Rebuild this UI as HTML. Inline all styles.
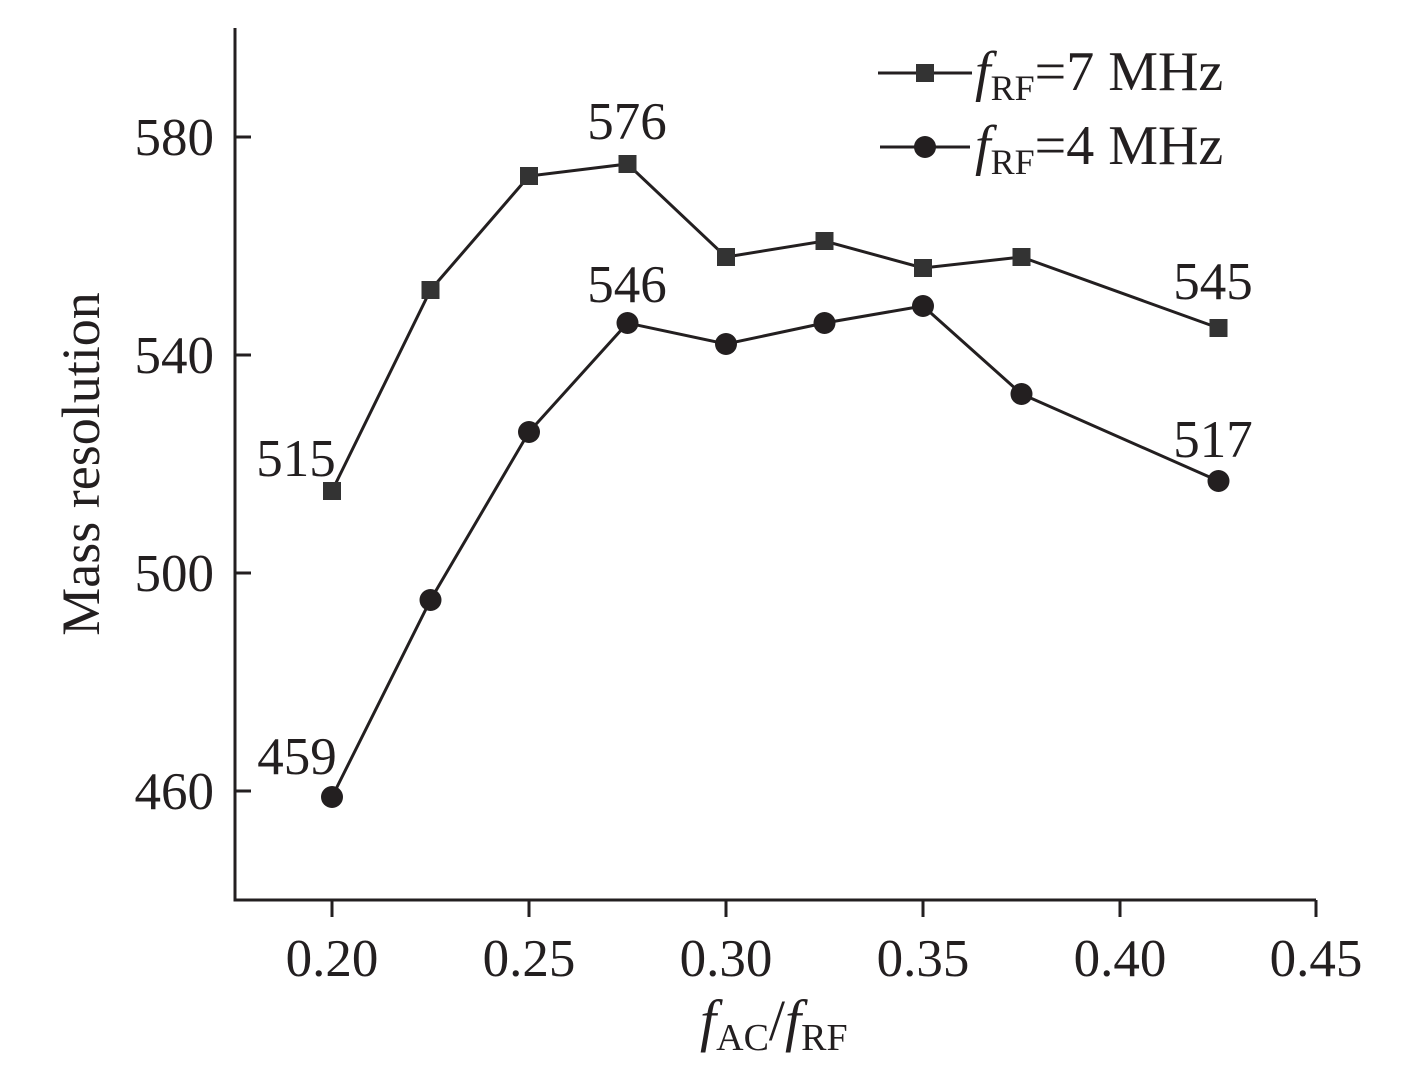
<!DOCTYPE html>
<html><head><meta charset="utf-8"><style>body{margin:0;background:#fff}svg{display:block}text{font-family:"Liberation Serif",serif;fill:#231f20}</style></head>
<body>
<svg width="1417" height="1074" viewBox="0 0 1417 1074" xmlns="http://www.w3.org/2000/svg">
<g stroke="#231f20" stroke-width="3" fill="none">
<polyline points="235,28 235,900 1316,900"/>
<line x1="235" y1="137" x2="251" y2="137"/><line x1="235" y1="355" x2="251" y2="355"/>
<line x1="235" y1="573" x2="251" y2="573"/><line x1="235" y1="791" x2="251" y2="791"/>
<line x1="332" y1="900" x2="332" y2="917"/><line x1="529" y1="900" x2="529" y2="917"/>
<line x1="726" y1="900" x2="726" y2="917"/><line x1="923" y1="900" x2="923" y2="917"/>
<line x1="1120" y1="900" x2="1120" y2="917"/><line x1="1316" y1="900" x2="1316" y2="917"/>
</g>
<g font-size="53" text-anchor="end">
<text x="214" y="155">580</text><text x="214" y="373">540</text><text x="214" y="591">500</text><text x="214" y="809">460</text>
</g>
<g font-size="53" text-anchor="middle">
<text x="332" y="976">0.20</text><text x="529" y="976">0.25</text><text x="726" y="976">0.30</text>
<text x="923" y="976">0.35</text><text x="1120" y="976">0.40</text><text x="1316" y="976">0.45</text>
</g>
<text font-size="54" text-anchor="middle" transform="translate(99,464) rotate(-90)">Mass resolution</text>
<text font-size="58" x="700" y="1040"><tspan font-style="italic">f</tspan><tspan font-size="38" dy="10">AC</tspan><tspan dy="-10">/</tspan><tspan font-style="italic">f</tspan><tspan font-size="38" dy="10">RF</tspan></text>
<g stroke="#231f20" stroke-width="3" fill="none">
<polyline points="332,491 430.5,290 529,176 627.5,164 726,257 824.5,241 923,268 1021.5,257 1218.5,328"/>
<polyline points="332,797 430.5,600 529,432 627.5,323 726,344 824.5,323 923,306 1021.5,394 1218.5,481"/>
<line x1="878" y1="73" x2="972" y2="73"/><line x1="880" y1="147" x2="970" y2="147"/>
</g>
<g fill="#333">
<rect x="323" y="482" width="18" height="18"/><rect x="421.5" y="281" width="18" height="18"/><rect x="520" y="167" width="18" height="18"/>
<rect x="618.5" y="155" width="18" height="18"/><rect x="717" y="248" width="18" height="18"/><rect x="815.5" y="232" width="18" height="18"/>
<rect x="914" y="259" width="18" height="18"/><rect x="1012.5" y="248" width="18" height="18"/><rect x="1209.5" y="319" width="18" height="18"/>
<rect x="916" y="64" width="18" height="18"/>
</g>
<g fill="#231f20">
<circle cx="332" cy="797" r="11"/><circle cx="430.5" cy="600" r="11"/><circle cx="529" cy="432" r="11"/>
<circle cx="627.5" cy="323" r="11"/><circle cx="726" cy="344" r="11"/><circle cx="824.5" cy="323" r="11"/>
<circle cx="923" cy="306" r="11"/><circle cx="1021.5" cy="394" r="11"/><circle cx="1218.5" cy="481" r="11"/>
<circle cx="925" cy="147" r="11"/>
</g>
<g font-size="56">
<text x="975" y="90"><tspan font-style="italic">f</tspan><tspan font-size="36" dy="10">RF</tspan><tspan dy="-10">=7 MHz</tspan></text>
<text x="975" y="164"><tspan font-style="italic">f</tspan><tspan font-size="36" dy="10">RF</tspan><tspan dy="-10">=4 MHz</tspan></text>
</g>
<g font-size="53" text-anchor="middle">
<text x="296" y="476">515</text><text x="627" y="139">576</text><text x="1213" y="299">545</text>
<text x="627" y="302">546</text><text x="1213" y="457">517</text><text x="297" y="774">459</text>
</g>
</svg>
</body></html>
